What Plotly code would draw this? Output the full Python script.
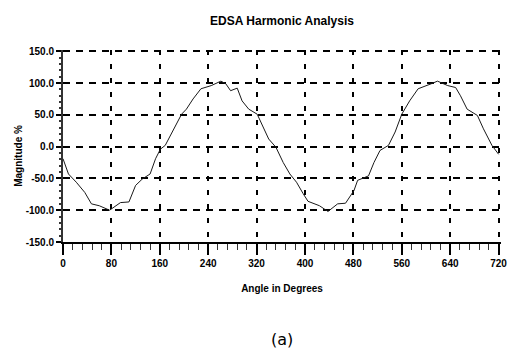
import plotly.graph_objects as go

title_text = "EDSA Harmonic Analysis"
x_title = "Angle in Degrees"
y_title = "Magnitude %"
caption = "(a)"

angle_deg = [0, 9, 22, 36, 47, 60, 77, 95, 109, 120, 131, 144, 153, 161, 169, 182, 196, 204, 215, 228,
             245, 261, 269, 277, 288, 296, 307, 321, 332, 340, 352, 364, 375, 386, 397, 405, 424, 438,
             454, 467, 481, 487, 505, 514, 524, 538, 549, 560, 573, 587, 609, 619, 636, 649, 657, 668,
             685, 695, 709, 720]
magnitude = [-19, -43, -56, -72, -90, -93, -100, -88, -87, -61, -51, -43, -19, -4, 2, 25, 51, 59, 75, 91,
             96, 103, 99, 88, 92, 72, 59, 51, 28, 12, -1, -25, -43, -56, -74, -86, -93, -102,
             -90, -89, -69, -53, -46, -25, -6, 2, 23, 51, 72, 91, 99, 103, 96, 93, 80, 59,
             49, 28, 2, -12]

x_ticks = [0, 80, 160, 240, 320, 400, 480, 560, 640, 720]
y_ticks = [-150, -100, -50, 0, 50, 100, 150]
y_tick_labels = ["-150.0", "-100.0", "-50.0", "0.0", "50.0", "100.0", "150.0"]

# axis ranges padded slightly so the grid lines at 150 and 720 are drawn
x_range = [0, 724]
y_range = [-150, 152]

fig = go.Figure()
fig.add_trace(go.Scatter(x=angle_deg, y=magnitude, mode="lines",
                         line=dict(color="#1a1a1a", width=1), showlegend=False))

font_main = "Liberation Sans, Arial, sans-serif"
font_tick = "Liberation Sans Narrow, Arial Narrow, Liberation Sans, sans-serif"

plot_w = 442 * 724 / 720
plot_h = 191 * 302 / 300
fig.update_layout(
    width=513, height=353,
    margin=dict(l=63, r=513 - 63 - plot_w, t=242 - plot_h, b=111),
    paper_bgcolor="white", plot_bgcolor="white",
    title=dict(text="<b>" + title_text + "</b>", x=0.5, xref="paper", y=1 - 21 / 353,
               yanchor="middle", font=dict(family=font_main, size=12, color="black")),
    font=dict(family=font_main, color="black"),
)

fig.update_xaxes(
    range=x_range, tickvals=x_ticks, ticktext=["<b>%d</b>" % v for v in x_ticks],
    showline=True, linecolor="black", linewidth=2,
    ticks="outside", ticklen=11, tickwidth=1.5, tickcolor="black",
    minor=dict(dtick=16, tick0=0, ticks="outside", ticklen=6, tickwidth=1.2, tickcolor="#333", showgrid=False),
    showgrid=True, gridcolor="black", gridwidth=1.5, griddash="5px,9px",
    tickfont=dict(family=font_tick, size=10, color="black"),
    ticklabeloverflow="allow",
    title=dict(text="<b>" + x_title + "</b>", font=dict(family=font_main, size=10, color="black"), standoff=17),
    zeroline=False,
)
fig.update_yaxes(
    range=y_range, tickvals=y_ticks, ticktext=["<b>%s</b>" % t for t in y_tick_labels],
    showline=True, linecolor="#333", linewidth=2,
    ticks="outside", ticklen=5, tickwidth=1.5, tickcolor="black",
    minor=dict(dtick=10, ticks="outside", ticklen=2, tickwidth=1.5, tickcolor="#333", showgrid=False),
    showgrid=True, gridcolor="black", gridwidth=1.5, griddash="7px,6px",
    tickfont=dict(family=font_tick, size=10, color="black"),
    zeroline=False,
)

fig.add_annotation(text="<b>" + y_title + "</b>", xref="paper", yref="paper",
                   x=-(63 - 17) / plot_w, y=(242 - 156) / plot_h, textangle=-90,
                   xanchor="center", yanchor="middle", showarrow=False,
                   font=dict(family=font_main, size=10, color="black"))

fig.add_annotation(text=caption, xref="paper", yref="paper", x=(285 - 63) / plot_w, y=-(340 - 242) / plot_h,
                   xanchor="center", yanchor="middle", showarrow=False,
                   font=dict(family="DejaVu Sans, sans-serif", size=16, color="black"))

fig.write_html("out.html")
